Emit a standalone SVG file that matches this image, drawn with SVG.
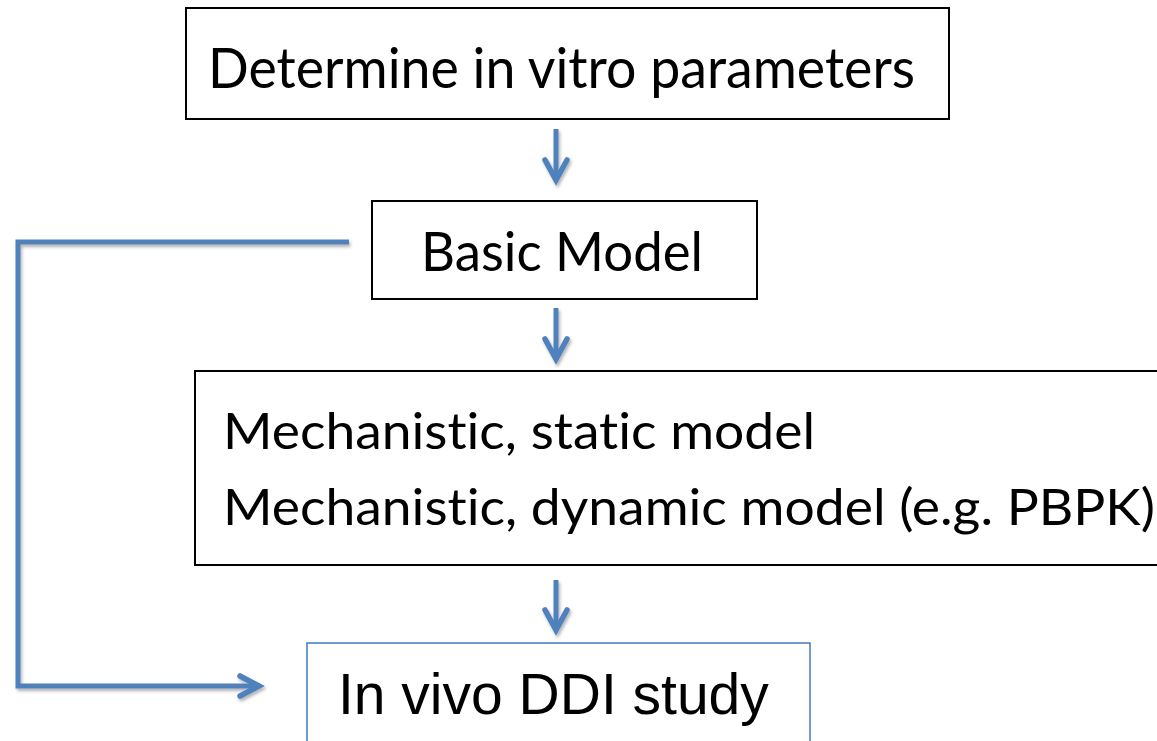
<svg xmlns="http://www.w3.org/2000/svg" width="1157" height="741" viewBox="0 0 1157 741">
  <style>
    .box { fill: #ffffff; stroke: #000000; stroke-width: 2; }
    .box-blue { fill: #ffffff; stroke: #4F81BD; stroke-width: 1.6; }
    .label { font-family: "Lato", "Open Sans", sans-serif; fill: #000000; font-variant-ligatures: none; font-feature-settings: "liga" 0, "clig" 0; }
    .label-arial { font-family: "Liberation Sans", Arial, sans-serif; fill: #000000; }
    .flow { fill: none; stroke: #4F81BD; stroke-width: 5; stroke-linejoin: miter; }
    .head { fill: none; stroke: #4F81BD; stroke-width: 5.5; stroke-linecap: round; stroke-linejoin: miter; }
  </style>
  <defs>
    <filter id="shadow" x="-20%" y="-20%" width="140%" height="140%">
      <feDropShadow dx="1.5" dy="2.5" stdDeviation="1.5" flood-color="#000000" flood-opacity="0.3"/>
    </filter>
  </defs>

  <rect width="1157" height="741" fill="#ffffff"/>

  <!-- step 1 -->
  <g id="node-invitro">
    <rect class="box" x="186" y="8" width="763" height="111"/>
    <text class="label" x="208" y="88" font-size="57" textLength="707" lengthAdjust="spacingAndGlyphs">Determine in vitro parameters</text>
  </g>

  <!-- step 2 -->
  <g id="node-basic">
    <rect class="box" x="372" y="201" width="385" height="98"/>
    <text class="label" x="421" y="271" font-size="55" textLength="282" lengthAdjust="spacingAndGlyphs">Basic Model</text>
  </g>

  <!-- step 3: runs past the right edge -->
  <g id="node-mechanistic">
    <rect class="box" x="195" y="371" width="975" height="194"/>
    <text class="label" x="223" y="449" font-size="50" textLength="592" lengthAdjust="spacingAndGlyphs">Mechanistic, static model</text>
    <text class="label" x="223" y="525" font-size="50" textLength="932" lengthAdjust="spacingAndGlyphs">Mechanistic, dynamic model (e.g. PBPK)</text>
  </g>

  <!-- step 4: runs past the bottom edge -->
  <g id="node-invivo">
    <rect class="box-blue" x="307" y="643" width="503" height="110"/>
    <text class="label-arial" x="338" y="714" font-size="57">In vivo DDI study</text>
  </g>

  <!-- connectors -->
  <g id="connectors" filter="url(#shadow)">
    <path class="flow" d="M556 129 V178"/>
    <path class="head" d="M545 160 L556 180 L567 160"/>

    <path class="flow" d="M556 308 V357"/>
    <path class="head" d="M545 339 L556 359 L567 339"/>

    <path class="flow" d="M556 580 V628"/>
    <path class="head" d="M545 610 L556 630 L567 610"/>

    <path class="flow" d="M349 242 H18 V686 H257"/>
    <path class="head" d="M240 676 L259 686 L240 696"/>
  </g>
</svg>
